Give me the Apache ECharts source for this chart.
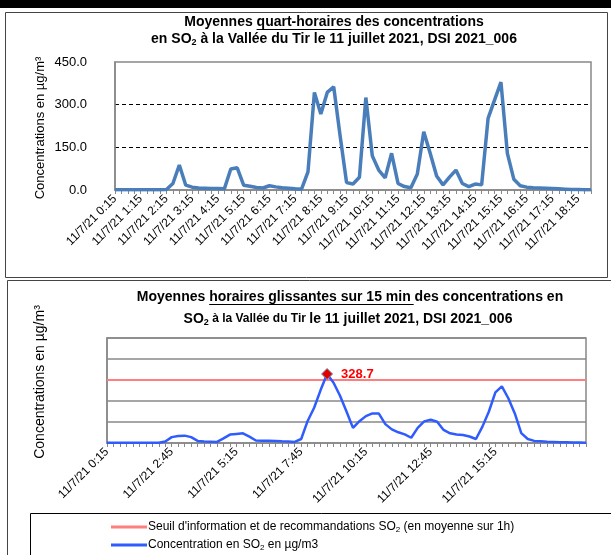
<!DOCTYPE html>
<html>
<head>
<meta charset="utf-8">
<script src="https://cdn.jsdelivr.net/npm/echarts@6/dist/echarts.min.js"></script>
<style>
html, body { margin: 0; padding: 0; background: #fff; }
#graphique { width: 611px; height: 555px; }
</style>
</head>
<body>
<div id="graphique"></div>
<script>
// heures des mesures (pas de 15 min)
const heures = [
    '0:15', '0:30', '0:45', '1:00', '1:15', '1:30', '1:45', '2:00', '2:15', '2:30',
    '2:45', '3:00', '3:15', '3:30', '3:45', '4:00', '4:15', '4:30', '4:45', '5:00',
    '5:15', '5:30', '5:45', '6:00', '6:15', '6:30', '6:45', '7:00', '7:15', '7:30',
    '7:45', '8:00', '8:15', '8:30', '8:45', '9:00', '9:15', '9:30', '9:45', '10:00',
    '10:15', '10:30', '10:45', '11:00', '11:15', '11:30', '11:45', '12:00', '12:15', '12:30',
    '12:45', '13:00', '13:15', '13:30', '13:45', '14:00', '14:15', '14:30', '14:45', '15:00',
    '15:15', '15:30', '15:45', '16:00', '16:15', '16:30', '16:45', '17:00', '17:15', '17:30',
    '17:45', '18:00', '18:15', '18:30', '18:45'
];

// moyennes quart-horaires SO2 (µg/m3)
const quartHoraire = [
    1, 1, 1, 1, 1, 1, 1, 1, 2, 23,
    88, 17, 10, 7, 6, 5, 5, 4, 74, 78,
    17, 13, 9, 7, 15, 11, 8, 6, 4, 3,
    64, 343, 267, 343, 363, 190, 26, 21, 45, 325,
    120, 70, 43, 129, 23, 12, 8, 56, 205, 129,
    49, 18, 45, 70, 23, 12, 21, 18, 252, 316,
    379, 129, 38, 15, 10, 8, 7, 6, 5, 4,
    3, 2, 2, 1, 1
];

// moyennes horaires glissantes SO2 (µg/m3)
const horaireGlissante = [
    1, 1, 1, 1, 1, 1, 1, 1, 1, 7,
    28, 33, 35, 28, 10, 7, 6, 5, 22, 40,
    43, 46, 30, 12, 11, 11, 10, 8, 7, 5,
    19, 105, 168, 252, 328.7, 287, 225, 150, 72, 104,
    128, 141, 140, 90, 65, 51, 41, 25, 72, 103,
    111, 101, 62, 46, 40, 38, 31, 19, 78, 150,
    241, 270, 213, 141, 47, 19, 10, 8, 6, 5,
    4, 3, 2, 2, 1
];

const seuil = 300;
const indicePic = 34;

const ticksHaut = [0, 150, 300, 450];
const ticksBas = [0, 100, 200, 300, 400, 500];
// dernier libellé affiché sur l'axe du bas (15:15)
const dernierLibelleBas = 60;

const POLICE = 'Arial, "Liberation Sans", sans-serif';
const categories = heures.map(h => '11/7/21 ' + h);

let ctx = document.createElement('canvas').getContext('2d');
function largeur(txt, taille) {
    ctx.font = 'bold ' + taille + 'px ' + POLICE;
    return ctx.measureText(txt).width;
}

// titres (centre x, y)
const t1x = 334, t1y = 22;
const t2x = 350, t2y = 297;
let l1 = 'Moyennes quart-horaires des concentrations';
let u1x = t1x - largeur(l1, 14) / 2 + largeur('Moyennes ', 14);
let u1w = largeur('quart-horaires', 14);
let l2 = 'Moyennes horaires glissantes sur 15 min des concentrations en';
let u2x = t2x - largeur(l2, 14) / 2 + largeur('Moyennes ', 14);
let u2w = largeur('horaires glissantes sur 15 min', 14);

const richTitre = {
    b: { fontFamily: POLICE, fontWeight: 'bold', fontSize: 14, color: '#000' },
    p: { fontFamily: POLICE, fontWeight: 'bold', fontSize: 12, color: '#000' },
    s: { fontFamily: POLICE, fontWeight: 'bold', fontSize: 9, color: '#000', padding: [7, 0, 0, 0] }
};

const richLegende = {
    t: { fontFamily: POLICE, fontSize: 12, color: '#000' },
    s: { fontFamily: POLICE, fontSize: 8, color: '#000', padding: [6, 0, 0, 0] }
};

function legende(nom, haut, texte) {
    return {
        orient: 'horizontal',
        left: 106,
        top: haut,
        itemWidth: 36,
        itemHeight: 14,
        z: 5,
        icon: 'path://M0,5.5 L36,5.5 L36,8.5 L0,8.5 Z',
        data: [nom],
        formatter: () => texte,
        textStyle: { padding: [0, 0, 0, -4], rich: richLegende }
    };
}

let graph = echarts.init(document.getElementById('graphique'));

let option = {
    animation: false,
    textStyle: { fontFamily: POLICE },
    graphic: [
        { type: 'rect', shape: { x: 0, y: 0, width: 611, height: 8 }, style: { fill: '#000' } },
        { type: 'rect', shape: { x: 5.5, y: 12.5, width: 602, height: 265 }, style: { fill: 'none', stroke: '#444', lineWidth: 1 } },
        { type: 'rect', shape: { x: 7.5, y: 280.5, width: 620, height: 300 }, style: { fill: 'none', stroke: '#444', lineWidth: 1 } },
        { type: 'rect', shape: { x: 30.5, y: 513.5, width: 600, height: 60 }, style: { fill: '#fff', stroke: '#000', lineWidth: 1 }, z: 1 },
        {
            type: 'text', x: t1x, y: t1y,
            style: { text: '{b|' + l1 + '}', rich: richTitre, align: 'center', verticalAlign: 'middle' }
        },
        {
            type: 'text', x: t1x, y: t1y + 17,
            style: { text: '{b|en SO}{s|2}{b| à la Vallée du Tir le 11 juillet 2021, DSI 2021_006}', rich: richTitre, align: 'center', verticalAlign: 'middle' }
        },
        { type: 'line', shape: { x1: u1x, y1: t1y + 7.5, x2: u1x + u1w, y2: t1y + 7.5 }, style: { stroke: '#000', lineWidth: 1 } },
        {
            type: 'text', x: t2x, y: t2y,
            style: { text: '{b|' + l2 + '}', rich: richTitre, align: 'center', verticalAlign: 'middle' }
        },
        {
            type: 'text', x: 348, y: t2y + 22,
            style: { text: '{b|SO}{s|2}{p| à la Vallée du Tir }{b|le 11 juillet 2021, DSI 2021_006}', rich: richTitre, align: 'center', verticalAlign: 'middle' }
        },
        { type: 'line', shape: { x1: u2x, y1: t2y + 7.5, x2: u2x + u2w + 3, y2: t2y + 7.5 }, style: { stroke: '#000', lineWidth: 1 } },
        {
            type: 'text', x: 40, y: 128, rotation: Math.PI / 2,
            style: { text: 'Concentrations en µg/m³', font: '13px ' + POLICE, fill: '#000', align: 'center', verticalAlign: 'middle' }
        },
        {
            type: 'text', x: 40, y: 382, rotation: Math.PI / 2,
            style: { text: 'Concentrations en µg/m³', font: '14px ' + POLICE, fill: '#000', align: 'center', verticalAlign: 'middle' }
        }
    ],
    grid: [
        { left: 115, right: 20, top: 62, height: 128, show: true, borderColor: '#888', borderWidth: 1.5, backgroundColor: 'transparent' },
        { left: 107, right: 25, top: 338, height: 105, show: true, borderColor: '#888', borderWidth: 1.5, backgroundColor: 'transparent' }
    ],
    legend: [
        legende('Seuil', 516, "{t|Seuil d'information et de recommandations SO}{s|2}{t| (en moyenne sur 1h)}"),
        legende('Concentration', 534, '{t|Concentration en SO}{s|2}{t| en µg/m3}')
    ],
    xAxis: [
        {
            gridIndex: 0,
            type: 'category',
            data: categories,
            boundaryGap: false,
            axisLine: { lineStyle: { color: '#888', width: 1.5 } },
            axisTick: { show: true, interval: 0, length: 4, lineStyle: { color: '#888' } },
            axisLabel: { interval: 3, rotate: 45, fontSize: 12, color: '#000', margin: 7 },
            splitLine: { show: false }
        },
        {
            gridIndex: 1,
            type: 'category',
            data: categories,
            boundaryGap: false,
            axisLine: { lineStyle: { color: '#888', width: 1.5 } },
            axisTick: { show: true, interval: 0, length: 4, lineStyle: { color: '#888' } },
            axisLabel: {
                interval: idx => idx % 10 === 0 && idx <= dernierLibelleBas,
                rotate: 45, fontSize: 12, color: '#000', margin: 7
            },
            splitLine: { show: false }
        }
    ],
    yAxis: [
        {
            gridIndex: 0,
            type: 'value',
            min: ticksHaut[0],
            max: ticksHaut[ticksHaut.length - 1],
            interval: 150,
            axisLine: { show: true, lineStyle: { color: '#888', width: 1.5 } },
            axisTick: { show: false },
            axisLabel: { fontSize: 13, color: '#000', margin: 28, formatter: v => v.toFixed(1) },
            splitLine: { show: true, showMinLine: false, showMaxLine: false, lineStyle: { color: '#000', type: [4, 3], width: 1 } }
        },
        {
            gridIndex: 1,
            type: 'value',
            min: ticksBas[0],
            max: ticksBas[ticksBas.length - 1],
            interval: 100,
            axisLine: { show: true, lineStyle: { color: '#888', width: 1.5 } },
            axisTick: { show: false },
            axisLabel: { show: false },
            splitLine: { show: true, showMinLine: false, lineStyle: { color: '#888', width: 1.5 } }
        }
    ],
    series: [
        {
            name: 'Quart-horaire',
            type: 'line',
            xAxisIndex: 0,
            yAxisIndex: 0,
            data: quartHoraire,
            symbol: 'none',
            lineStyle: { color: '#4a7ebb', width: 3.5 },
            itemStyle: { color: '#4a7ebb' }
        },
        {
            name: 'Seuil',
            type: 'line',
            xAxisIndex: 1,
            yAxisIndex: 1,
            data: heures.map(() => seuil),
            symbol: 'none',
            lineStyle: { color: '#ff7f7f', width: 2 },
            itemStyle: { color: '#ff7f7f' }
        },
        {
            name: 'Concentration',
            type: 'line',
            xAxisIndex: 1,
            yAxisIndex: 1,
            data: horaireGlissante,
            symbol: 'none',
            lineStyle: { color: '#2f5cff', width: 2.5 },
            itemStyle: { color: '#2f5cff' },
            markPoint: {
                symbol: 'diamond',
                symbolSize: 11,
                itemStyle: { color: '#e00000', borderColor: '#7a8aa8', borderWidth: 1 },
                label: {
                    show: true,
                    position: 'right',
                    distance: 8,
                    color: '#ff0000',
                    fontWeight: 'bold',
                    fontSize: 13,
                    formatter: p => p.value.toFixed(1)
                },
                data: [{ coord: [indicePic, horaireGlissante[indicePic]], value: horaireGlissante[indicePic] }]
            }
        }
    ]
};

graph.setOption(option);
</script>
</body>
</html>
